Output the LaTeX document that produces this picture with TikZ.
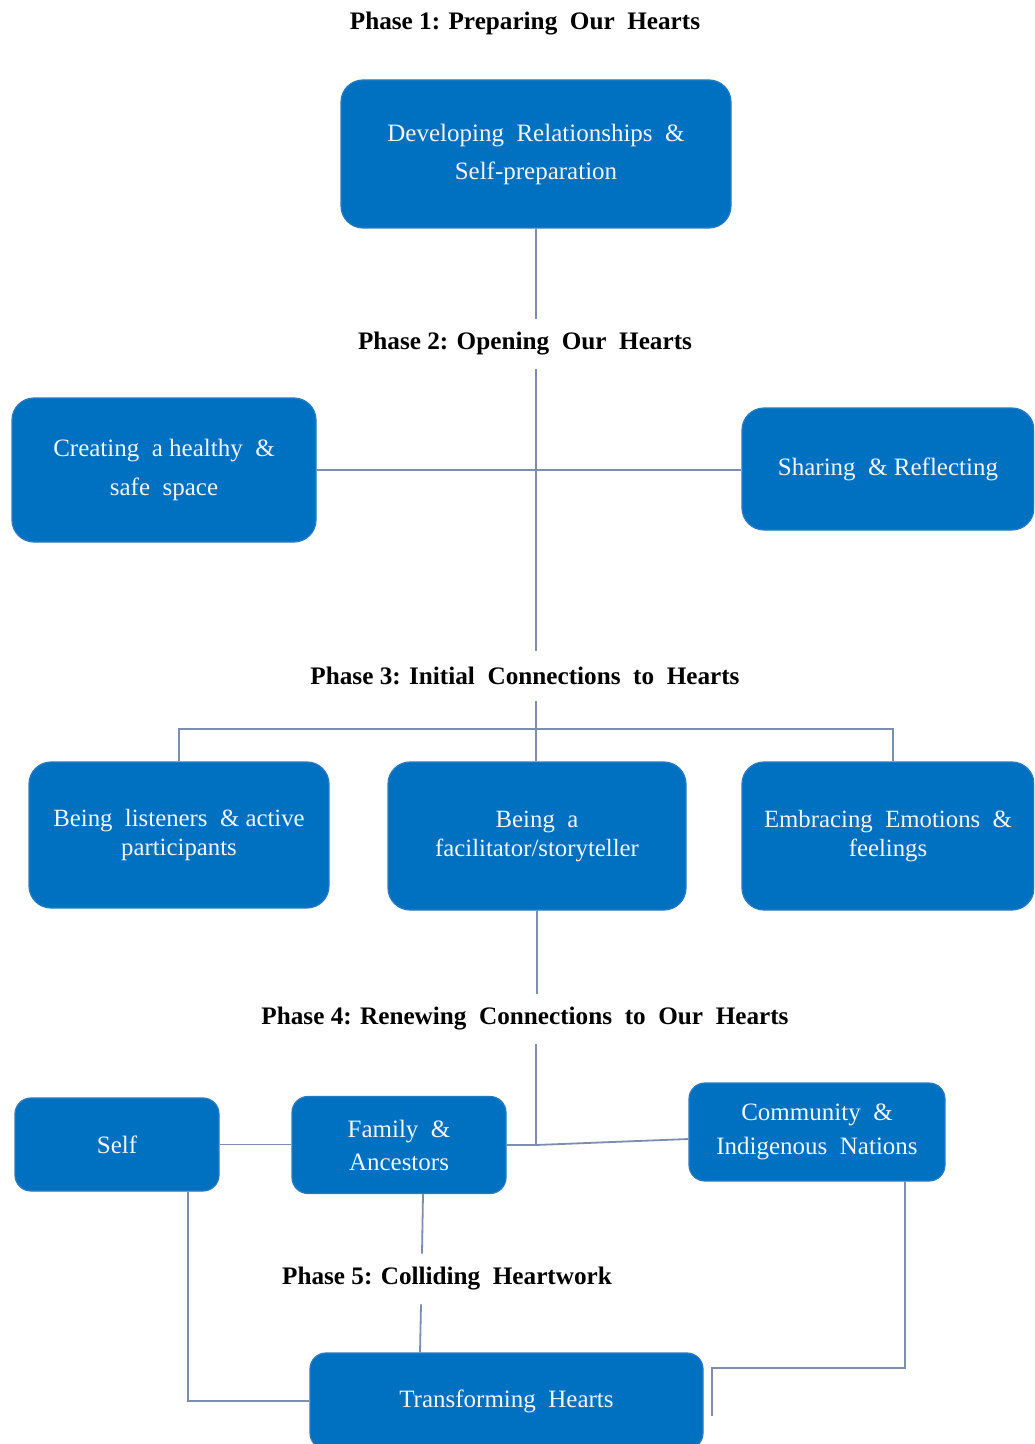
\documentclass[tikz,border=0pt]{standalone}
\usepackage{fontspec}
\setmainfont{Liberation Serif}
\usetikzlibrary{calc}
\definecolor{boxblue}{HTML}{0070C0}
\definecolor{boxedge}{HTML}{2A7CC2}
\definecolor{boxtext}{HTML}{F2F6FA}
\definecolor{linkcol}{HTML}{7C8EAE}
\tikzset{
  x=0.5pt, y=-0.5pt,
  box/.style={draw=boxedge, line width=0.6pt, fill=boxblue, rounded corners=11pt,
    text=boxtext, align=center, inner sep=0pt,
    font=\fontsize{12.5}{19}\selectfont},
  smallbox/.style={box, rounded corners=8pt},
  phase/.style={font=\fontsize{12.6}{15}\selectfont\bfseries, text=black,
    inner xsep=2pt, inner ysep=0pt, minimum height=25pt},
  link/.style={draw=linkcol, line width=0.9pt},
}
\begin{document}
\begin{tikzpicture}
\clip (0,0) rectangle (1034,1444);
\fill[white] (0,0) rectangle (1034,1444);

% titles
\node[phase] (t1) at (525,24) {Phase 1: Preparing\ \ Our\ \ Hearts};
\node[phase] (t2) at (525,344) {Phase 2: Opening\ \ Our\ \ Hearts};
\node[phase] (t3) at (525,676) {Phase 3: Initial\ \ Connections\ \ to\ \ Hearts};
\node[phase] (t4) at (525,1019) {Phase 4: Renewing\ \ Connections\ \ to\ \ Our\ \ Hearts};
\node[phase] (t5) at (447,1279) {Phase 5: Colliding\ \ Heartwork};

% boxes
\node[box, minimum width=195pt, minimum height=74pt] (b1) at (536,154)
  {Developing\ \ Relationships\ \ \&\\Self-preparation};
\node[box, font=\fontsize{12.5}{19.5}\selectfont, minimum width=152pt, minimum height=72pt] (b2a) at (164,470)
  {Creating\ \ a healthy\ \ \&\\safe\ \ space};
\node[box, minimum width=146pt, minimum height=61pt] (b2b) at (888,469)
  {Sharing\ \ \& Reflecting};
\node[box, font=\fontsize{12.4}{14.5}\selectfont, minimum width=150pt, minimum height=73pt] (b3a) at (179,835)
  {Being\ \ listeners\ \ \& active\\participants};
\node[box, font=\fontsize{12.4}{14.5}\selectfont, minimum width=149pt, minimum height=74pt] (b3b) at (537,836)
  {Being\ \ a\\facilitator/storyteller};
\node[box, font=\fontsize{12.4}{14.5}\selectfont, minimum width=146pt, minimum height=74pt] (b3c) at (888,836)
  {Embracing\ \ Emotions\ \ \&\\feelings};
\node[smallbox, minimum width=102pt, minimum height=46.5pt] (b4a) at (117,1144.5) {Self};
\node[smallbox, font=\fontsize{12.5}{16.5}\selectfont, minimum width=107pt, minimum height=48.5pt] (b4b) at (399,1145)
  {Family\ \ \&\\Ancestors};
\node[smallbox, font=\fontsize{12.5}{17}\selectfont, minimum width=128pt, minimum height=49pt] (b4c) at (817,1132)
  {Community\ \ \&\\Indigenous\ \ Nations};
\node[smallbox, minimum width=196.5pt, minimum height=48pt] (b5) at (506.5,1401)
  {Transforming\ \ Hearts};

% junction coordinates
\coordinate (j3) at (536,729);
\coordinate (j4) at (536,1145);
\coordinate (k1) at (712,1368);
\coordinate (k2) at (712,1416);

% connectors
\draw[link] (b1.south) -- (b1.south |- t2.north);
\draw[link] (b1.south |- t2.south) -- (b1.south |- t3.north);
\draw[link] (b2a.east) -- (b2a.east -| b2b.west);
\draw[link] (b1.south |- t3.south) -- (j3) -- (j3 |- b3b.north);
\draw[link] (b3a.north) |- (j3) -| ($(b3c.north)+(5,0)$);
\draw[link] (b3b.south) -- (b3b.south |- t4.north);
\draw[link] (j4 |- t4.south) -- (j4);
\draw[link] (b4b.east) -- (j4) -- ($(b4c.west)+(0,7)$);
\draw[link] (b4a.east) -- (b4a.east -| b4b.west);
\draw[link] ($(b4b.south)+(24,0)$) -- ($(t5.north)+(-25,0)$);
\draw[link] ($(t5.south)+(-26,0)$) -- ($(b5.north)+(-86.5,0)$);
\draw[link] ($(b4a.south)+(71,0)$) |- (b5.west);
\draw[link] ($(b4c.south)+(88,0)$) |- (k1) -- (k2);
\end{tikzpicture}
\end{document}
